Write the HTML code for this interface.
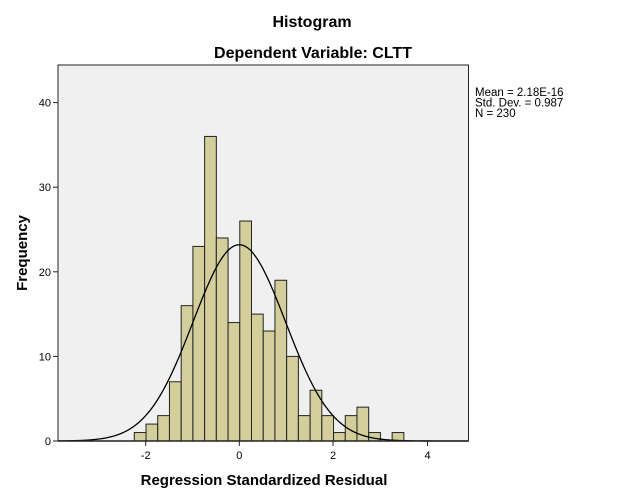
<!DOCTYPE html>
<html><head><meta charset="utf-8"><style>body{margin:0;background:#fff}svg{display:block}text{font-family:"Liberation Sans",Arial,sans-serif}</style></head>
<body>
<svg id="s" width="626" height="501" xmlns="http://www.w3.org/2000/svg">
<rect x="0" y="0" width="626" height="501" fill="#fff"/>
<text x="312" y="27" font-size="16" font-weight="bold" text-anchor="middle">Histogram</text>
<text x="313" y="58" font-size="16" font-weight="bold" text-anchor="middle">Dependent Variable: CLTT</text>
<rect x="58" y="65" width="410.5" height="376" fill="#f0f0f0" stroke="#222" stroke-width="1"/>
<g id="bars" fill="#d3ce9a" stroke="#222" stroke-width="1"></g>
<path id="curve" fill="none" stroke="#000" stroke-width="1.3"/>
<line x1="58" y1="441" x2="468.5" y2="441" stroke="#222" stroke-width="1.5"/>
<g stroke="#222" stroke-width="1">
<line x1="53" y1="441" x2="58" y2="441"/><line x1="53" y1="356.4" x2="58" y2="356.4"/><line x1="53" y1="271.8" x2="58" y2="271.8"/><line x1="53" y1="187.2" x2="58" y2="187.2"/><line x1="53" y1="102.6" x2="58" y2="102.6"/>
<line x1="145.7" y1="441" x2="145.7" y2="446"/><line x1="239.3" y1="441" x2="239.3" y2="446"/><line x1="333" y1="441" x2="333" y2="446"/><line x1="427.5" y1="441" x2="427.5" y2="446"/>
</g>
<g font-size="11" text-anchor="end">
<text x="51" y="445">0</text><text x="51" y="360.4">10</text><text x="51" y="275.8">20</text><text x="51" y="191.2">30</text><text x="51" y="106.6">40</text>
</g>
<g font-size="11" text-anchor="middle">
<text x="145.7" y="459">-2</text><text x="239.3" y="459">0</text><text x="333" y="459">2</text><text x="427.5" y="459">4</text>
</g>
<text x="264" y="485" font-size="15" font-weight="bold" text-anchor="middle">Regression Standardized Residual</text>
<text transform="translate(27,253) rotate(-90)" font-size="15" font-weight="bold" text-anchor="middle">Frequency</text>
<g font-size="11.5">
<text x="475" y="96">Mean = 2.18E-16</text><text x="475" y="106.5">Std. Dev. = 0.987</text><text x="475" y="117">N = 230</text>
</g>
</svg>
<script>
var c=[1,2,3,7,16,23,36,24,14,26,15,13,19,10,3,6,3,1,3,4,1,0,1];
var x0=134.3,w=11.72,k=8.46,y0=441,h='';
c.forEach(function(v,i){if(v>0)h+='<rect x="'+(x0+i*w)+'" y="'+(y0-v*k)+'" width="'+w+'" height="'+(v*k)+'"/>';});
document.getElementById('bars').innerHTML=h;
var d='';for(var px=58;px<=468.5;px+=1){var u=(px-239.3)/46.9;var f=23.2*Math.exp(-u*u/(2*0.987*0.987));d+=(px==58?'M':'L')+px+','+(y0-f*k).toFixed(2);}
document.getElementById('curve').setAttribute('d',d);
</script>
</body></html>
